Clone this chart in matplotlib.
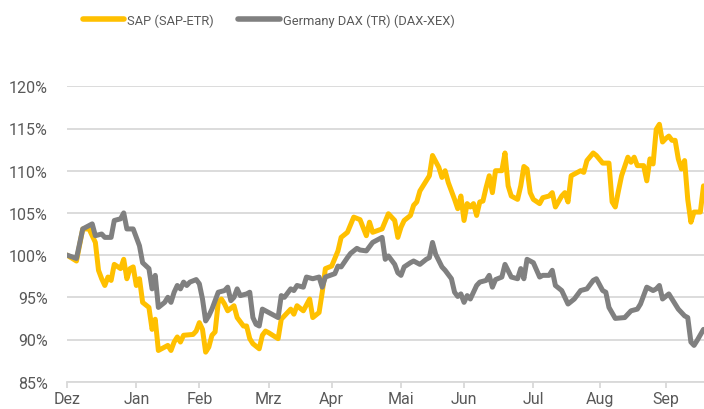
import numpy as np
import matplotlib
matplotlib.use('Agg')
import matplotlib.pyplot as plt
from matplotlib.ticker import PercentFormatter

# trading day number since 1 Dec, relative performance in %
sap_day = [0, 3, 5, 7, 9, 10, 11, 12, 13, 14, 15, 17, 18, 19, 20, 21, 22, 23, 24, 26, 27, 28, 29, 30,
           32, 33, 34, 35, 36, 37, 40, 41, 42, 43, 44, 45, 46, 47, 48, 49, 50, 51, 53, 54, 56, 57, 58,
           59, 61, 62, 63, 64, 67, 68, 69, 71, 72, 73, 75, 77, 78, 80, 81, 82, 84, 86, 87, 89, 91, 93,
           95, 96, 97, 100, 102, 104, 105, 106, 107, 109, 110, 111, 112, 114, 115, 116, 118, 119, 120,
           121, 123, 124, 125, 126, 127, 128, 129, 130, 131, 132, 133, 134, 135, 136, 138, 139, 140,
           141, 143, 144, 145, 146, 147, 148, 150, 151, 153, 154, 155, 157, 158, 159, 160, 161, 163,
           164, 165, 167, 168, 170, 172, 173, 174, 175, 176, 178, 179, 180, 181, 183, 184, 185, 186,
           187, 188, 189, 190, 191, 192, 193, 194, 195, 196, 197, 198, 199, 201, 202]
sap_val = [100.0, 99.3, 103.1, 103.1, 101.5, 98.2, 97.2, 96.4, 97.4, 97.0, 98.9, 98.4, 99.5, 97.2,
           98.4, 98.6, 96.4, 97.2, 94.4, 93.8, 91.2, 92.4, 88.7, 88.9, 89.3, 88.7, 89.7, 90.3, 89.7,
           90.5, 90.6, 91.0, 92.0, 91.2, 88.5, 89.1, 90.5, 90.9, 94.4, 94.8, 94.2, 93.4, 94.0, 92.6,
           91.6, 91.6, 90.1, 89.5, 88.9, 90.5, 91.0, 90.8, 90.1, 92.4, 92.8, 93.6, 93.0, 94.0, 93.4,
           94.8, 92.6, 93.2, 95.6, 98.4, 98.7, 100.5, 102.1, 102.7, 104.5, 104.2, 102.3, 103.9, 102.7,
           103.1, 104.9, 104.1, 102.1, 103.3, 104.1, 104.7, 105.9, 106.3, 107.6, 108.8, 109.4, 111.8,
           110.4, 109.2, 110.0, 108.6, 106.6, 105.5, 107.0, 104.1, 106.1, 105.7, 106.1, 104.7, 106.3,
           106.4, 108.0, 109.4, 107.4, 110.0, 110.0, 112.1, 108.2, 107.0, 106.6, 108.2, 110.5, 110.2,
           107.4, 106.6, 106.1, 106.8, 107.0, 107.4, 105.7, 107.0, 107.4, 106.3, 109.4, 109.6, 110.0,
           109.8, 111.2, 112.1, 111.8, 110.9, 110.9, 106.3, 105.7, 107.6, 109.4, 111.6, 111.0, 111.6,
           110.6, 110.6, 108.8, 111.4, 110.8, 114.9, 115.5, 113.4, 113.8, 114.1, 113.6, 113.6, 111.4,
           110.2, 111.2, 106.6, 103.9, 105.1, 105.1, 108.2]

dax_day = [0, 3, 5, 8, 9, 11, 12, 14, 15, 17, 18, 19, 21, 22, 23, 24, 26, 27, 28, 29, 31, 32, 33, 34,
           35, 36, 37, 38, 39, 41, 42, 43, 44, 45, 46, 48, 50, 51, 52, 53, 54, 55, 57, 58, 59, 60, 61,
           62, 64, 67, 68, 69, 71, 72, 73, 75, 76, 78, 80, 81, 82, 85, 86, 87, 89, 90, 92, 93, 95, 97,
           98, 100, 101, 102, 104, 105, 106, 107, 109, 110, 112, 114, 115, 116, 117, 119, 120, 122, 123,
           124, 125, 126, 127, 128, 130, 131, 133, 134, 135, 136, 138, 139, 141, 143, 144, 145, 146,
           147, 148, 150, 151, 153, 154, 155, 157, 159, 161, 163, 165, 167, 168, 170, 171, 172, 174,
           177, 179, 181, 182, 184, 186, 187, 188, 189, 191, 192, 194, 196, 197, 198, 199, 200, 202]
dax_val = [100.0, 99.6, 103.1, 103.7, 102.3, 102.5, 102.1, 102.1, 104.1, 104.3, 105.0, 103.1, 103.1,
           102.1, 101.1, 99.1, 98.4, 96.0, 97.6, 93.8, 94.4, 95.0, 94.4, 95.6, 96.4, 96.0, 96.8, 96.4,
           96.8, 97.1, 96.6, 94.8, 92.2, 92.8, 93.6, 95.6, 95.8, 96.2, 94.6, 95.0, 96.0, 95.2, 95.4,
           95.6, 92.6, 91.8, 91.6, 93.6, 93.2, 92.6, 95.2, 95.0, 96.0, 95.8, 96.4, 96.2, 97.4, 97.2,
           97.4, 96.2, 97.4, 97.8, 98.7, 98.6, 99.7, 100.2, 100.8, 100.6, 100.5, 101.5, 101.7, 102.1,
           99.5, 99.9, 98.9, 97.9, 97.6, 98.6, 99.1, 99.3, 98.9, 99.5, 99.7, 101.5, 100.1, 98.6, 98.2,
           97.2, 95.6, 95.1, 95.4, 94.4, 95.2, 94.8, 96.4, 96.8, 97.0, 97.6, 96.2, 97.1, 97.4, 98.9,
           97.4, 97.2, 98.4, 97.2, 99.5, 99.3, 99.1, 97.4, 97.6, 97.6, 98.2, 96.4, 95.8, 94.2, 94.8,
           95.8, 96.0, 97.0, 97.2, 95.8, 95.6, 93.8, 92.5, 92.6, 93.4, 93.6, 94.2, 96.2, 95.8, 96.0,
           96.4, 94.8, 95.4, 94.8, 93.6, 92.8, 92.6, 89.7, 89.3, 89.9, 91.2]

month_day = [0, 22, 42, 64, 84, 106, 126, 148, 169, 190]
month_lbl = ['Dez', 'Jan', 'Feb', 'Mrz', 'Apr', 'Mai', 'Jun', 'Jul', 'Aug', 'Sep']

gold = '#FFC000'
grey = '#808080'
grid_c = '#D9D9D9'
txt_c = '#595959'

plt.rcParams['font.family'] = ['Roboto', 'DejaVu Sans']

fig = plt.figure(figsize=(7.04, 4.10), dpi=100)
ax = fig.add_axes([67/704, 1 - 382.7/410, (703.5 - 67)/704, (382.7 - 87.3)/410])

ax.plot(sap_day, sap_val, color=gold, lw=3.6, solid_joinstyle='round', solid_capstyle='round',
        label='SAP (SAP-ETR)', zorder=3)
ax.plot(dax_day, dax_val, color=grey, lw=3.6, solid_joinstyle='round', solid_capstyle='round',
        label='Germany DAX (TR) (DAX-XEX)', zorder=3)

ax.set_xlim(0, 202)
ax.set_ylim(85, 120)
ax.set_yticks(np.arange(85, 121, 5))
ax.yaxis.set_major_formatter(PercentFormatter(decimals=0))
ax.set_xticks(month_day)
ax.set_xticklabels(month_lbl)

ax.grid(axis='y', color=grid_c, lw=1.3, zorder=0)
ax.set_axisbelow(True)
for s in ['top', 'right', 'left']:
    ax.spines[s].set_visible(False)
ax.spines['bottom'].set_color(grid_c)
ax.spines['bottom'].set_linewidth(1.3)
ax.tick_params(axis='y', length=0, pad=14, labelsize=11.5, labelcolor=txt_c)
ax.tick_params(axis='x', length=4, width=1.3, color=grid_c, pad=3, labelsize=11.5, labelcolor=txt_c)

leg = fig.legend(loc='center left', bbox_to_anchor=(83/704, 1 - 21/410), ncol=2, frameon=False,
                 fontsize=9.3, handlelength=3.2, handletextpad=0.22, columnspacing=1.9,
                 borderpad=0, borderaxespad=0)
for t in leg.get_texts():
    t.set_color(txt_c)
for h in leg.get_lines():
    h.set_linewidth(4)

fig.savefig('out.png', dpi=100)
